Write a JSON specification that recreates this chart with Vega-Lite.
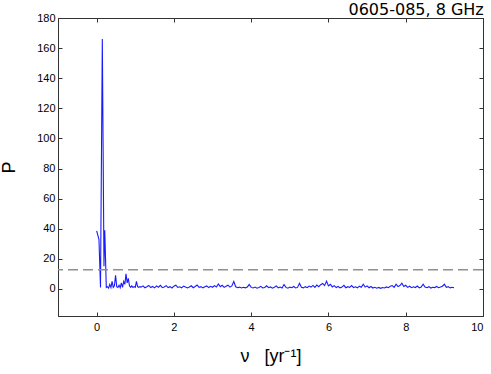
{
  "$schema": "https://vega.github.io/schema/vega-lite/v6.json",
  "width": 425,
  "height": 298,
  "autosize": "none",
  "padding": {"left": 58, "top": 18, "right": 8, "bottom": 58},
  "background": "white",
  "title": {"text": "0605-085, 8 GHz", "anchor": "end", "fontSize": 16, "font": "DejaVu Sans", "fontWeight": "normal", "color": "#000", "offset": 4, "dy": 10},
  "datasets": {
    "pg": [
      {"nu": 0.0, "P": 38.5}, {"nu": 0.06, "P": 33}, {"nu": 0.1, "P": 1}, {"nu": 0.147, "P": 166},
      {"nu": 0.19, "P": 15}, {"nu": 0.21, "P": 39}, {"nu": 0.225, "P": 25}, {"nu": 0.25, "P": 1},
      {"nu": 0.28, "P": 1.5}, {"nu": 0.31, "P": 0.5}, {"nu": 0.34, "P": 3}, {"nu": 0.37, "P": 1},
      {"nu": 0.4, "P": 5}, {"nu": 0.43, "P": 1}, {"nu": 0.46, "P": 2}, {"nu": 0.49, "P": 9},
      {"nu": 0.52, "P": 1.5}, {"nu": 0.55, "P": 1}, {"nu": 0.58, "P": 2.5}, {"nu": 0.61, "P": 0.8},
      {"nu": 0.64, "P": 4}, {"nu": 0.67, "P": 1}, {"nu": 0.7, "P": 5}, {"nu": 0.73, "P": 3},
      {"nu": 0.76, "P": 10}, {"nu": 0.79, "P": 4}, {"nu": 0.82, "P": 7}, {"nu": 0.85, "P": 2},
      {"nu": 0.88, "P": 1}, {"nu": 0.91, "P": 2}, {"nu": 0.94, "P": 1}, {"nu": 0.97, "P": 1.5},
      {"nu": 1.0, "P": 1}, {"nu": 1.03, "P": 5}, {"nu": 1.06, "P": 1.5}, {"nu": 1.09, "P": 1},
      {"nu": 1.12, "P": 1.5},
      {"nu": 1.15, "P": 1.2}, {"nu": 1.2, "P": 2.0}, {"nu": 1.25, "P": 0.8}, {"nu": 1.3, "P": 1.5},
      {"nu": 1.35, "P": 2.3}, {"nu": 1.4, "P": 0.9}, {"nu": 1.45, "P": 1.6}, {"nu": 1.5, "P": 0.7},
      {"nu": 1.55, "P": 2.0}, {"nu": 1.6, "P": 1.1}, {"nu": 1.65, "P": 2.4}, {"nu": 1.7, "P": 0.8},
      {"nu": 1.75, "P": 1.3}, {"nu": 1.8, "P": 2.2}, {"nu": 1.85, "P": 0.9}, {"nu": 1.9, "P": 1.5},
      {"nu": 1.95, "P": 0.6}, {"nu": 2.0, "P": 1.8}, {"nu": 2.05, "P": 2.5}, {"nu": 2.1, "P": 1.0},
      {"nu": 2.15, "P": 1.4}, {"nu": 2.2, "P": 0.7}, {"nu": 2.25, "P": 1.9}, {"nu": 2.3, "P": 1.2},
      {"nu": 2.35, "P": 0.6}, {"nu": 2.4, "P": 1.3}, {"nu": 2.45, "P": 2.1}, {"nu": 2.5, "P": 0.8},
      {"nu": 2.55, "P": 1.6}, {"nu": 2.6, "P": 2.6}, {"nu": 2.65, "P": 1.0}, {"nu": 2.7, "P": 1.5},
      {"nu": 2.75, "P": 0.7}, {"nu": 2.8, "P": 1.4}, {"nu": 2.85, "P": 2.0}, {"nu": 2.9, "P": 0.9},
      {"nu": 2.95, "P": 1.7}, {"nu": 3.0, "P": 1.1}, {"nu": 3.05, "P": 2.2}, {"nu": 3.1, "P": 1.3},
      {"nu": 3.15, "P": 3.3}, {"nu": 3.2, "P": 1.5}, {"nu": 3.25, "P": 2.4}, {"nu": 3.3, "P": 1.0},
      {"nu": 3.35, "P": 1.8}, {"nu": 3.4, "P": 2.5}, {"nu": 3.45, "P": 1.2}, {"nu": 3.5, "P": 2.0},
      {"nu": 3.55, "P": 4.9}, {"nu": 3.6, "P": 1.4}, {"nu": 3.65, "P": 0.8}, {"nu": 3.7, "P": 1.2},
      {"nu": 3.75, "P": 0.6}, {"nu": 3.8, "P": 1.1}, {"nu": 3.85, "P": 0.7}, {"nu": 3.9, "P": 1.3},
      {"nu": 3.95, "P": 2.9}, {"nu": 4.0, "P": 1.0}, {"nu": 4.05, "P": 0.6}, {"nu": 4.1, "P": 1.2},
      {"nu": 4.15, "P": 0.5}, {"nu": 4.2, "P": 0.9}, {"nu": 4.25, "P": 1.7}, {"nu": 4.3, "P": 0.6},
      {"nu": 4.35, "P": 1.0}, {"nu": 4.4, "P": 2.1}, {"nu": 4.45, "P": 0.8}, {"nu": 4.5, "P": 1.3},
      {"nu": 4.55, "P": 0.5}, {"nu": 4.6, "P": 1.1}, {"nu": 4.65, "P": 2.0}, {"nu": 4.7, "P": 0.7},
      {"nu": 4.75, "P": 1.2}, {"nu": 4.8, "P": 0.6}, {"nu": 4.85, "P": 2.9}, {"nu": 4.9, "P": 1.0},
      {"nu": 4.95, "P": 0.5}, {"nu": 5.0, "P": 1.2}, {"nu": 5.05, "P": 0.8}, {"nu": 5.1, "P": 1.6},
      {"nu": 5.15, "P": 0.6}, {"nu": 5.2, "P": 1.0}, {"nu": 5.25, "P": 3.8}, {"nu": 5.3, "P": 1.1},
      {"nu": 5.35, "P": 0.7}, {"nu": 5.4, "P": 1.5}, {"nu": 5.45, "P": 0.8}, {"nu": 5.5, "P": 1.9},
      {"nu": 5.55, "P": 1.2}, {"nu": 5.6, "P": 2.3}, {"nu": 5.65, "P": 1.0}, {"nu": 5.7, "P": 2.6},
      {"nu": 5.75, "P": 1.5}, {"nu": 5.8, "P": 2.8}, {"nu": 5.85, "P": 3.6}, {"nu": 5.9, "P": 2.2},
      {"nu": 5.95, "P": 5.2}, {"nu": 6.0, "P": 2.0}, {"nu": 6.05, "P": 3.0}, {"nu": 6.1, "P": 1.3},
      {"nu": 6.15, "P": 2.2}, {"nu": 6.2, "P": 0.9}, {"nu": 6.25, "P": 1.6}, {"nu": 6.3, "P": 0.7},
      {"nu": 6.35, "P": 1.2}, {"nu": 6.4, "P": 2.4}, {"nu": 6.45, "P": 0.8}, {"nu": 6.5, "P": 1.5},
      {"nu": 6.55, "P": 1.0}, {"nu": 6.6, "P": 2.2}, {"nu": 6.65, "P": 0.9}, {"nu": 6.7, "P": 1.4},
      {"nu": 6.75, "P": 0.7}, {"nu": 6.8, "P": 1.8}, {"nu": 6.85, "P": 1.1}, {"nu": 6.9, "P": 3.1},
      {"nu": 6.95, "P": 1.2}, {"nu": 7.0, "P": 2.0}, {"nu": 7.05, "P": 0.8}, {"nu": 7.1, "P": 1.6},
      {"nu": 7.15, "P": 0.6}, {"nu": 7.2, "P": 1.1}, {"nu": 7.25, "P": 0.5}, {"nu": 7.3, "P": 1.0},
      {"nu": 7.35, "P": 0.4}, {"nu": 7.4, "P": 0.9}, {"nu": 7.45, "P": 0.6}, {"nu": 7.5, "P": 1.3},
      {"nu": 7.55, "P": 0.8}, {"nu": 7.6, "P": 1.7}, {"nu": 7.65, "P": 2.2}, {"nu": 7.7, "P": 1.0},
      {"nu": 7.75, "P": 3.1}, {"nu": 7.8, "P": 1.5}, {"nu": 7.85, "P": 2.2}, {"nu": 7.9, "P": 3.8},
      {"nu": 7.95, "P": 1.6}, {"nu": 8.0, "P": 2.4}, {"nu": 8.05, "P": 1.0}, {"nu": 8.1, "P": 1.8},
      {"nu": 8.15, "P": 0.8}, {"nu": 8.2, "P": 1.4}, {"nu": 8.25, "P": 0.9}, {"nu": 8.3, "P": 1.9},
      {"nu": 8.35, "P": 0.7}, {"nu": 8.4, "P": 1.3}, {"nu": 8.45, "P": 3.1}, {"nu": 8.5, "P": 1.2},
      {"nu": 8.55, "P": 0.8}, {"nu": 8.6, "P": 1.5}, {"nu": 8.65, "P": 0.6}, {"nu": 8.7, "P": 1.1},
      {"nu": 8.75, "P": 0.9}, {"nu": 8.8, "P": 1.6}, {"nu": 8.85, "P": 0.8}, {"nu": 8.9, "P": 1.2},
      {"nu": 8.95, "P": 1.8}, {"nu": 9.0, "P": 3.1}, {"nu": 9.05, "P": 1.0}, {"nu": 9.1, "P": 1.5},
      {"nu": 9.15, "P": 0.7}, {"nu": 9.2, "P": 1.1}, {"nu": 9.25, "P": 0.8}
    ],
    "threshold": [{"P": 12.7}]
  },
  "layer": [
    {
      "data": {"name": "pg"},
      "mark": {"type": "line", "color": "#1a1aff", "strokeWidth": 1.1, "clip": true},
      "encoding": {
        "x": {
          "field": "nu", "type": "quantitative",
          "scale": {"domain": [-1, 10], "nice": false, "zero": false},
          "axis": {"orient": "bottom", "values": [0, 2, 4, 6, 8, 10], "title": "ν\u00a0\u00a0\u00a0[yr⁻¹]", "titleFontSize": 18, "titlePadding": 15, "labelPadding": 9}
        },
        "y": {
          "field": "P", "type": "quantitative",
          "scale": {"domain": [-18, 180], "nice": false, "zero": false},
          "axis": {"orient": "left", "values": [0, 20, 40, 60, 80, 100, 120, 140, 160, 180], "title": "P", "titleFontSize": 18, "titlePadding": 18, "labelPadding": 7}
        }
      }
    },
    {
      "data": {"name": "threshold"},
      "mark": {"type": "rule", "color": "#909090", "strokeDash": [10, 5], "strokeWidth": 1.5},
      "encoding": {"y": {"field": "P", "type": "quantitative", "axis": null}}
    },
    {
      "data": {"name": "pg"},
      "mark": {"type": "line", "opacity": 0},
      "encoding": {
        "x": {"field": "nu", "type": "quantitative", "axis": {"orient": "top", "values": [0, 2, 4, 6, 8, 10], "labels": false, "title": null}},
        "y": {"field": "P", "type": "quantitative", "axis": {"orient": "right", "values": [0, 20, 40, 60, 80, 100, 120, 140, 160, 180], "labels": false, "title": null}}
      }
    }
  ],
  "resolve": {"axis": {"x": "independent", "y": "independent"}},
  "config": {
    "view": {"stroke": "#333333", "strokeWidth": 1},
    "axis": {
      "grid": false,
      "domainColor": "#333333",
      "tickColor": "#333333",
      "tickSize": -4,
      "labelFont": "Liberation Sans",
      "labelFontSize": 11,
      "labelColor": "#000000",
      "titleFont": "Liberation Sans",
      "titleFontWeight": "normal",
      "titleColor": "#000000"
    }
  }
}
